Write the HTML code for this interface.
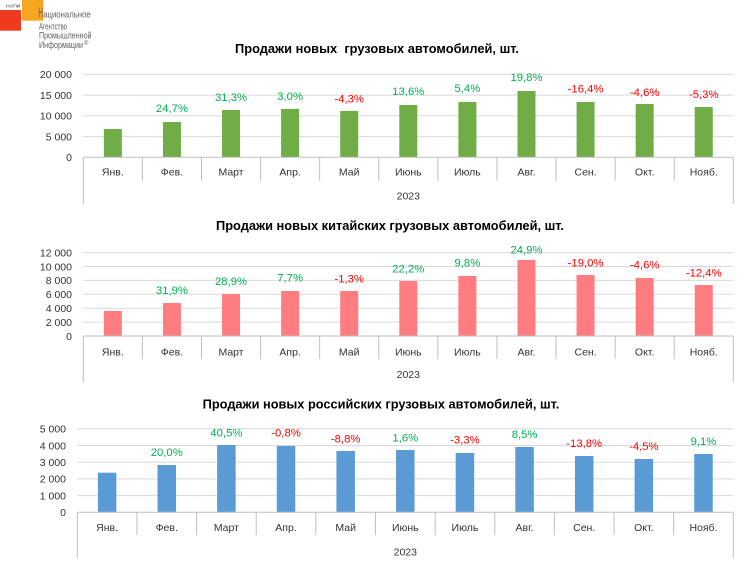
<!DOCTYPE html>
<html><head><meta charset="utf-8"><style>
html,body{margin:0;padding:0;background:#fff;}
svg{display:block;}
text{font-family:"Liberation Sans",Arial,sans-serif;}
.ax{font-size:10.5px;fill:#333;}
.ttl{font-size:12.5px;font-weight:bold;fill:#000;}
.g{font-size:11.3px;fill:#00B050;}
.r{font-size:11.3px;fill:#FF0000;}
.grid{stroke:#d9d9d9;stroke-width:1;}
.axl{stroke:#bfbfbf;stroke-width:1;}
.lg{font-size:9px;fill:#606060;}
</style></head><body>
<svg width="752" height="563" viewBox="0 0 752 563" xmlns="http://www.w3.org/2000/svg">
<!-- logo -->
<rect x="0" y="10" width="21" height="20.7" fill="#EE3A1F"/>
<rect x="22" y="0" width="21.3" height="20.7" fill="#F5A623"/>
<text x="6" y="7.5" style="font-size:4.5px;fill:#333" textLength="14.5" lengthAdjust="spacingAndGlyphs">НАПИ</text>
<text x="38.3" y="17.4" style="font-size:15px;fill:#606060" textLength="4.8" lengthAdjust="spacingAndGlyphs">Н</text>
<text x="43.2" y="17.3" class="lg" textLength="47.5" lengthAdjust="spacingAndGlyphs">ациональное</text>
<text x="39" y="29.4" class="lg" textLength="28" lengthAdjust="spacingAndGlyphs">Агентство</text>
<text x="39" y="38.4" class="lg" textLength="52.5" lengthAdjust="spacingAndGlyphs">Промышленной</text>
<text x="39" y="47.8" class="lg" textLength="44" lengthAdjust="spacingAndGlyphs">Информации</text>
<text x="84" y="45" style="font-size:6px;fill:#606060">®</text>

<!-- ===== Chart 1 ===== -->
<text x="377" y="52.8" class="ttl" text-anchor="middle" textLength="284" lengthAdjust="spacingAndGlyphs">Продажи новых&#160; грузовых автомобилей, шт.</text>
<g>
<line class="grid" x1="83.3" x2="733.3" y1="74.3" y2="74.3"/>
<line class="grid" x1="83.3" x2="733.3" y1="95.1" y2="95.1"/>
<line class="grid" x1="83.3" x2="733.3" y1="115.8" y2="115.8"/>
<line class="grid" x1="83.3" x2="733.3" y1="136.6" y2="136.6"/>
</g>
<g class="ax" text-anchor="end">
<text x="72" y="78">20 000</text>
<text x="72" y="98.8">15 000</text>
<text x="72" y="119.5">10 000</text>
<text x="72" y="140.3">5 000</text>
<text x="72" y="161">0</text>
</g>
<g fill="#70AD47">
<rect x="103.85" y="129" width="18" height="28.3"/>
<rect x="162.94" y="122" width="18" height="35.3"/>
<rect x="222.03" y="110" width="18" height="47.3"/>
<rect x="281.12" y="109" width="18" height="48.3"/>
<rect x="340.21" y="111" width="18" height="46.3"/>
<rect x="399.3" y="105" width="18" height="52.3"/>
<rect x="458.39" y="102" width="18" height="55.3"/>
<rect x="517.48" y="91" width="18" height="66.3"/>
<rect x="576.57" y="102" width="18" height="55.3"/>
<rect x="635.66" y="104" width="18" height="53.3"/>
<rect x="694.75" y="107" width="18" height="50.3"/>
</g>
<g text-anchor="middle">
<text class="g" x="171.94" y="112.2">24,7%</text>
<text class="g" x="231.03" y="100.9">31,3%</text>
<text class="g" x="290.12" y="100.2">3,0%</text>
<text class="r" x="349.21" y="102.5">-4,3%</text>
<text class="g" x="408.3" y="95.2">13,6%</text>
<text class="g" x="467.39" y="91.9">5,4%</text>
<text class="g" x="526.48" y="80.9">19,8%</text>
<text class="r" x="585.57" y="92.5">-16,4%</text>
<text class="r" x="644.66" y="95.9">-4,6%</text>
<text class="r" x="703.75" y="98.2">-5,3%</text>
</g>
<g class="axl">
<line x1="83.3" x2="733.3" y1="157.3" y2="157.3"/>
<line x1="83.3" x2="83.3" y1="157.3" y2="204"/>
<line x1="733.3" x2="733.3" y1="157.3" y2="204"/>
<line x1="142.39" x2="142.39" y1="157.3" y2="180.7"/>
<line x1="201.48" x2="201.48" y1="157.3" y2="180.7"/>
<line x1="260.57" x2="260.57" y1="157.3" y2="180.7"/>
<line x1="319.66" x2="319.66" y1="157.3" y2="180.7"/>
<line x1="378.75" x2="378.75" y1="157.3" y2="180.7"/>
<line x1="437.85" x2="437.85" y1="157.3" y2="180.7"/>
<line x1="496.94" x2="496.94" y1="157.3" y2="180.7"/>
<line x1="556.03" x2="556.03" y1="157.3" y2="180.7"/>
<line x1="615.12" x2="615.12" y1="157.3" y2="180.7"/>
<line x1="674.21" x2="674.21" y1="157.3" y2="180.7"/>
</g>
<g class="ax" text-anchor="middle">
<text x="112.85" y="175.5">Янв.</text>
<text x="171.94" y="175.5">Фев.</text>
<text x="231.03" y="175.5">Март</text>
<text x="290.12" y="175.5">Апр.</text>
<text x="349.21" y="175.5">Май</text>
<text x="408.3" y="175.5">Июнь</text>
<text x="467.39" y="175.5">Июль</text>
<text x="526.48" y="175.5">Авг.</text>
<text x="585.57" y="175.5">Сен.</text>
<text x="644.66" y="175.5">Окт.</text>
<text x="703.75" y="175.5">Нояб.</text>
<text x="408.3" y="199.5">2023</text>
</g>

<!-- ===== Chart 2 ===== -->
<text x="390" y="230.2" class="ttl" text-anchor="middle" textLength="348" lengthAdjust="spacingAndGlyphs">Продажи новых китайских грузовых автомобилей, шт.</text>
<g>
<line class="grid" x1="83.3" x2="733.3" y1="252.6" y2="252.6"/>
<line class="grid" x1="83.3" x2="733.3" y1="266.5" y2="266.5"/>
<line class="grid" x1="83.3" x2="733.3" y1="280.4" y2="280.4"/>
<line class="grid" x1="83.3" x2="733.3" y1="294.3" y2="294.3"/>
<line class="grid" x1="83.3" x2="733.3" y1="308.2" y2="308.2"/>
<line class="grid" x1="83.3" x2="733.3" y1="322.1" y2="322.1"/>
</g>
<g class="ax" text-anchor="end">
<text x="72" y="256.4">12 000</text>
<text x="72" y="270.3">10 000</text>
<text x="72" y="284.2">8 000</text>
<text x="72" y="298.1">6 000</text>
<text x="72" y="312">4 000</text>
<text x="72" y="325.9">2 000</text>
<text x="72" y="339.8">0</text>
</g>
<g fill="#FF7C80">
<rect x="103.85" y="311" width="18" height="25"/>
<rect x="162.94" y="303" width="18" height="33"/>
<rect x="222.03" y="294" width="18" height="42"/>
<rect x="281.12" y="291" width="18" height="45"/>
<rect x="340.21" y="291" width="18" height="45"/>
<rect x="399.3" y="281" width="18" height="55"/>
<rect x="458.39" y="276" width="18" height="60"/>
<rect x="517.48" y="260" width="18" height="76"/>
<rect x="576.57" y="275" width="18" height="61"/>
<rect x="635.66" y="278" width="18" height="58"/>
<rect x="694.75" y="285" width="18" height="51"/>
</g>
<g text-anchor="middle">
<text class="g" x="171.94" y="294.2">31,9%</text>
<text class="g" x="231.03" y="285.2">28,9%</text>
<text class="g" x="290.12" y="281.5">7,7%</text>
<text class="r" x="349.21" y="282.5">-1,3%</text>
<text class="g" x="408.3" y="272.5">22,2%</text>
<text class="g" x="467.39" y="266.5">9,8%</text>
<text class="g" x="526.48" y="253.5">24,9%</text>
<text class="r" x="585.57" y="266.5">-19,0%</text>
<text class="r" x="644.66" y="268.5">-4,6%</text>
<text class="r" x="703.75" y="276.5">-12,4%</text>
</g>
<g class="axl">
<line x1="83.3" x2="733.3" y1="336" y2="336"/>
<line x1="83.3" x2="83.3" y1="336" y2="382.3"/>
<line x1="733.3" x2="733.3" y1="336" y2="382.3"/>
<line x1="142.39" x2="142.39" y1="336" y2="359"/>
<line x1="201.48" x2="201.48" y1="336" y2="359"/>
<line x1="260.57" x2="260.57" y1="336" y2="359"/>
<line x1="319.66" x2="319.66" y1="336" y2="359"/>
<line x1="378.75" x2="378.75" y1="336" y2="359"/>
<line x1="437.85" x2="437.85" y1="336" y2="359"/>
<line x1="496.94" x2="496.94" y1="336" y2="359"/>
<line x1="556.03" x2="556.03" y1="336" y2="359"/>
<line x1="615.12" x2="615.12" y1="336" y2="359"/>
<line x1="674.21" x2="674.21" y1="336" y2="359"/>
</g>
<g class="ax" text-anchor="middle">
<text x="112.85" y="355.5">Янв.</text>
<text x="171.94" y="355.5">Фев.</text>
<text x="231.03" y="355.5">Март</text>
<text x="290.12" y="355.5">Апр.</text>
<text x="349.21" y="355.5">Май</text>
<text x="408.3" y="355.5">Июнь</text>
<text x="467.39" y="355.5">Июль</text>
<text x="526.48" y="355.5">Авг.</text>
<text x="585.57" y="355.5">Сен.</text>
<text x="644.66" y="355.5">Окт.</text>
<text x="703.75" y="355.5">Нояб.</text>
<text x="408.3" y="377.8">2023</text>
</g>

<!-- ===== Chart 3 ===== -->
<text x="381" y="408.5" class="ttl" text-anchor="middle" textLength="356.6" lengthAdjust="spacingAndGlyphs">Продажи новых российских грузовых автомобилей, шт.</text>
<g>
<line class="grid" x1="77.3" x2="733.3" y1="428.8" y2="428.8"/>
<line class="grid" x1="77.3" x2="733.3" y1="445.5" y2="445.5"/>
<line class="grid" x1="77.3" x2="733.3" y1="462.2" y2="462.2"/>
<line class="grid" x1="77.3" x2="733.3" y1="478.9" y2="478.9"/>
<line class="grid" x1="77.3" x2="733.3" y1="495.6" y2="495.6"/>
</g>
<g class="ax" text-anchor="end">
<text x="66" y="432.6">5 000</text>
<text x="66" y="449.3">4 000</text>
<text x="66" y="466">3 000</text>
<text x="66" y="482.7">2 000</text>
<text x="66" y="499.4">1 000</text>
<text x="66" y="516.1">0</text>
</g>
<g fill="#5B9BD5">
<rect x="97.87" y="472.7" width="18.5" height="39.6"/>
<rect x="157.5" y="465" width="18.5" height="47.3"/>
<rect x="217.14" y="445" width="18.5" height="67.3"/>
<rect x="276.78" y="446" width="18.5" height="66.3"/>
<rect x="336.41" y="451" width="18.5" height="61.3"/>
<rect x="396.05" y="450" width="18.5" height="62.3"/>
<rect x="455.69" y="453" width="18.5" height="59.3"/>
<rect x="515.32" y="447" width="18.5" height="65.3"/>
<rect x="574.96" y="456" width="18.5" height="56.3"/>
<rect x="634.59" y="459" width="18.5" height="53.3"/>
<rect x="694.23" y="454" width="18.5" height="58.3"/>
</g>
<g text-anchor="middle">
<text class="g" x="166.75" y="455.9">20,0%</text>
<text class="g" x="226.39" y="436.5">40,5%</text>
<text class="r" x="286.03" y="436.5">-0,8%</text>
<text class="r" x="345.66" y="442.5">-8,8%</text>
<text class="g" x="405.3" y="441.5">1,6%</text>
<text class="r" x="464.94" y="443.5">-3,3%</text>
<text class="g" x="524.57" y="438.2">8,5%</text>
<text class="r" x="584.21" y="446.9">-13,8%</text>
<text class="r" x="643.84" y="450.2">-4,5%</text>
<text class="g" x="703.48" y="445.2">9,1%</text>
</g>
<g class="axl">
<line x1="77.3" x2="733.3" y1="512.3" y2="512.3"/>
<line x1="77.3" x2="77.3" y1="512.3" y2="558.3"/>
<line x1="733.3" x2="733.3" y1="512.3" y2="558.3"/>
<line x1="136.94" x2="136.94" y1="512.3" y2="535"/>
<line x1="196.57" x2="196.57" y1="512.3" y2="535"/>
<line x1="256.21" x2="256.21" y1="512.3" y2="535"/>
<line x1="315.84" x2="315.84" y1="512.3" y2="535"/>
<line x1="375.48" x2="375.48" y1="512.3" y2="535"/>
<line x1="435.12" x2="435.12" y1="512.3" y2="535"/>
<line x1="494.75" x2="494.75" y1="512.3" y2="535"/>
<line x1="554.39" x2="554.39" y1="512.3" y2="535"/>
<line x1="614.03" x2="614.03" y1="512.3" y2="535"/>
<line x1="673.66" x2="673.66" y1="512.3" y2="535"/>
</g>
<g class="ax" text-anchor="middle">
<text x="107.12" y="531.1">Янв.</text>
<text x="166.75" y="531.1">Фев.</text>
<text x="226.39" y="531.1">Март</text>
<text x="286.03" y="531.1">Апр.</text>
<text x="345.66" y="531.1">Май</text>
<text x="405.3" y="531.1">Июнь</text>
<text x="464.94" y="531.1">Июль</text>
<text x="524.57" y="531.1">Авг.</text>
<text x="584.21" y="531.1">Сен.</text>
<text x="643.84" y="531.1">Окт.</text>
<text x="703.48" y="531.1">Нояб.</text>
<text x="405.3" y="555.5">2023</text>
</g>
</svg>
</body></html>
